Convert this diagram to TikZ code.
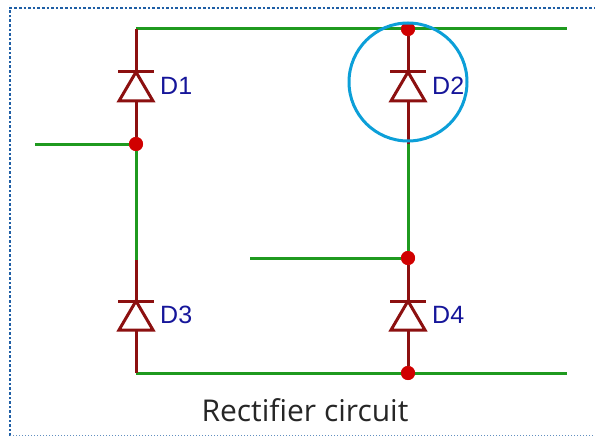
\documentclass[tikz,border=0pt]{standalone}
\usepackage{fontspec}
\setmainfont{Liberation Sans}
\newfontfamily\captionfont{Open Sans}
\definecolor{wiregreen}{HTML}{1F9A1F}
\definecolor{diodered}{HTML}{8C1010}
\definecolor{dotred}{HTML}{D00000}
\definecolor{labelblue}{HTML}{16169A}
\definecolor{ringblue}{HTML}{0C9FD8}
\definecolor{framedot}{HTML}{1F5FA5}
\tikzset{
 wire/.style={wiregreen,line width=3pt},
 lead/.style={diodered,line width=3pt},
 junction/.style={circle,fill=dotred,inner sep=0pt,minimum size=14pt},
 dlabel/.style={text=labelblue,font=\fontsize{25}{25}\selectfont,inner sep=0pt,anchor=west},
}
\begin{document}
\begin{tikzpicture}[x=1pt,y=-1pt]
\useasboundingbox (0,0) rectangle (595,436);
%frame
\draw[framedot,line width=2.6pt,dotted] (10,436)--(10,8)--(595,8);
\draw[framedot!70,line width=1pt,dotted] (10,435.3)--(595,435.3);
%corners and free ends
\coordinate (tl) at (136,29);
\coordinate (tr) at (567,29);
\coordinate (bl) at (136,373);
\coordinate (br) at (567,373);
\coordinate (inA) at (35,144);
\coordinate (inB) at (250,258);
\node[junction] (top) at (408,29) {};
\node[junction] (left) at (136,144) {};
\node[junction] (mid) at (408,258) {};
\node[junction] (bot) at (408,373) {};
%green wires
\draw[wire](tl)--(tr);
\draw[wire](bl)--(br);
\draw[wire](inA)--(left);
\draw[wire](inB)--(mid);
\draw[wire](left)--(136,262);
\draw[wire](408,144)--(mid);
%diodes
\foreach \name/\x/\y in {D1/136/72,D2/408/72,D3/136/301,D4/408/301}{
 \coordinate (\name k) at (\x,\y);
 \coordinate (\name a) at (\x,\y+29);
 \draw[lead,line join=miter](\x-17,\y+29)--(\x+17,\y+29)--(\x,\y)--cycle;
 \draw[lead](\x-18,\y)--(\x+18,\y);
 \node[dlabel] (label\name) at (\x+24,\y+14) {\name};
}
\draw[lead](tl)--(D1k);
\draw[lead](D1a)--(left);
\draw[lead](top)--(D2k);
\draw[lead](D2a)--(408,144);
\draw[lead](136,260)--(D3k);
\draw[lead](D3a)--(bl);
\draw[lead](mid)--(D4k);
\draw[lead](D4a)--(bot);
%redraw dots over the wires
\foreach \n in {top,left,mid,bot}{
 \fill[dotred] (\n) circle (7);
}
%highlight
\node[circle,draw=ringblue,line width=3pt,minimum size=118pt,inner sep=0pt] (ring) at (408,82) {};
\node[font=\captionfont\fontsize{30}{30}\selectfont,text=black!85,inner sep=0pt] (caption) at (305,410.5) {Rectifier circuit};
\end{tikzpicture}
\end{document}
